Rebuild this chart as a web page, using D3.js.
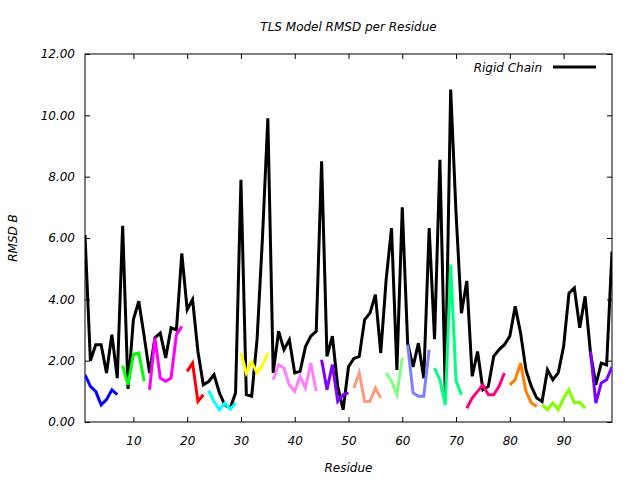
<!DOCTYPE html>
<html>
<head>
<meta charset="utf-8">
<script src="https://cdn.jsdelivr.net/npm/d3@7"></script>
<style>
  html, body { margin: 0; padding: 0; background: #fff; }
  svg text { font-family: "DejaVu Sans", sans-serif; font-style: italic; }
</style>
</head>
<body>
<svg id="chart" width="640" height="480"></svg>
<script>
// ---- data ----
const residues = d3.range(1, 100);
const rigidChain = [
  6.1, 2.0, 2.52, 2.52, 1.6, 2.85, 1.43, 6.4, 1.08, 3.34,
  3.94, 2.8, 1.6, 2.75, 2.9, 2.09, 3.07, 3.0, 5.5, 3.66,
  3.99, 2.3, 1.21, 1.32, 1.54, 0.95, 0.56, 0.45, 0.95, 7.9,
  0.89, 0.84, 2.7, 6.0, 9.9, 1.6, 2.96, 2.36, 2.68, 1.6,
  1.65, 2.46, 2.8, 2.96, 8.5, 2.14, 2.8, 1.16, 0.4, 1.8,
  2.07, 2.14, 3.34, 3.55, 4.15, 2.25, 4.64, 6.32, 1.7, 7.0,
  2.57, 1.8, 2.57, 1.43, 6.32, 2.7, 8.55, 0.95, 10.84, 6.8,
  3.55, 4.6, 1.49, 2.3, 1.05, 1.16, 2.14, 2.36, 2.52, 2.8,
  3.77, 2.9, 1.7, 1.16, 0.78, 0.67, 1.7, 1.38, 1.6, 2.46,
  4.2, 4.37, 3.07, 4.1, 2.25, 1.21, 1.92, 1.86, 5.56
];
// TLS groups: first residue of each group and the per-residue values
const groupStart = [1, 8, 13, 20, 24, 30, 36, 45, 51, 57, 61, 66, 72, 80, 86, 95];
const groupValues = [
  [1.54, 1.16, 1.0, 0.56, 0.73, 1.05, 0.89],
  [1.84, 1.21, 2.2, 2.25, 1.33],
  [1.05, 2.74, 1.43, 1.33, 1.43, 2.85, 3.12],
  [1.65, 1.92, 0.67, 0.89],
  [1.03, 0.67, 0.4, 0.62, 0.42, 0.62],
  [2.25, 1.6, 1.95, 1.6, 1.85, 2.25],
  [1.38, 1.87, 1.76, 1.21, 1.0, 1.49, 1.11, 1.92, 1.0],
  [2.03, 1.05, 1.87, 0.67, 0.89, 0.95],
  [1.11, 1.6, 0.67, 0.67, 1.11, 0.78],
  [1.6, 1.33, 0.89, 2.09],
  [2.52, 0.95, 0.84, 0.84, 2.36],
  [1.76, 1.38, 0.56, 5.13, 1.35, 0.89],
  [0.45, 0.78, 1.0, 1.21, 0.89, 0.89, 1.16, 1.6],
  [1.21, 1.38, 1.92, 1.0, 0.62, 0.51],
  [0.56, 0.4, 0.62, 0.4, 0.78, 1.05, 0.62, 0.64, 0.45],
  [2.3, 0.62, 1.27, 1.38, 1.8]
];
const groupColors = [
  "#0000ff", "#00ff00", "#ff00ff", "#ff0000", "#00ffff", "#ffff00",
  "#ff80ff", "#8000ff", "#ff9980", "#80ff80", "#8080ff", "#00ff80",
  "#ff0080", "#ff8000", "#80ff00", "#8000ff"
];
const yTicks = [0, 2, 4, 6, 8, 10, 12];
const xTicks = [10, 20, 30, 40, 50, 60, 70, 80, 90];
const titleText = "TLS Model RMSD per Residue";
const xLabel = "Residue";
const yLabel = "RMSD B";
const legendLabel = "Rigid Chain";

// ---- layout ----
const svg = d3.select("#chart");
const L = 85, R = 612, T = 54, B = 422;
const x = d3.scaleLinear().domain([1, 99]).range([L, R]);
const y = d3.scaleLinear().domain([0, 12]).range([B, T]);

// axes (ticks inward, mirrored)
const fmt = d3.format(".2f");
svg.append("g").attr("transform", `translate(${L},0)`)
  .call(d3.axisLeft(y).tickValues(yTicks).tickFormat(fmt).tickSizeInner(-5).tickSizeOuter(0).tickPadding(10))
  .call(g => g.select(".domain").remove());
svg.append("g").attr("transform", `translate(${R},0)`)
  .call(d3.axisRight(y).tickValues(yTicks).tickFormat("").tickSizeInner(-5).tickSizeOuter(0))
  .call(g => g.select(".domain").remove());
svg.append("g").attr("transform", `translate(0,${B})`)
  .call(d3.axisBottom(x).tickValues(xTicks).tickFormat(d3.format("d")).tickSizeInner(-5).tickSizeOuter(0).tickPadding(14))
  .call(g => g.select(".domain").remove());
svg.append("g").attr("transform", `translate(0,${T})`)
  .call(d3.axisTop(x).tickValues(xTicks).tickFormat("").tickSizeInner(-5).tickSizeOuter(0))
  .call(g => g.select(".domain").remove());
svg.selectAll(".tick line").attr("stroke", "#000");
svg.selectAll(".tick text").attr("fill", "#000").style("font-size", "12px")
  .style("font-family", "'DejaVu Sans', sans-serif").style("font-style", "italic");

svg.append("rect").attr("x", L).attr("y", T).attr("width", R - L).attr("height", B - T)
  .attr("fill", "none").attr("stroke", "#000").attr("stroke-width", 1);

// clip
svg.append("clipPath").attr("id", "clip").append("rect")
  .attr("x", L).attr("y", T).attr("width", R - L).attr("height", B - T);

const line = d3.line().x(d => x(d[0])).y(d => y(d[1]));
const plot = svg.append("g").attr("clip-path", "url(#clip)");

plot.append("path")
  .datum(residues.map((r, i) => [r, rigidChain[i]]))
  .attr("d", line).attr("fill", "none").attr("stroke", "#000")
  .attr("stroke-width", 3).attr("stroke-linejoin", "miter");

groupValues.forEach((vals, gi) => {
  plot.append("path")
    .datum(vals.map((v, i) => [groupStart[gi] + i, v]))
    .attr("d", line).attr("fill", "none").attr("stroke", groupColors[gi])
    .attr("stroke-width", 3);
});

// title and labels
svg.append("text").attr("x", (L + R) / 2).attr("y", 31).attr("text-anchor", "middle")
  .style("font-size", "12px").text(titleText);
svg.append("text").attr("x", (L + R) / 2).attr("y", 472).attr("text-anchor", "middle")
  .style("font-size", "12px").text(xLabel);
svg.append("text").attr("transform", `translate(17,${(T + B) / 2}) rotate(-90)`)
  .attr("text-anchor", "middle").style("font-size", "12px").text(yLabel);

// legend
svg.append("text").attr("x", 542).attr("y", 72).attr("text-anchor", "end")
  .style("font-size", "12px").text(legendLabel);
svg.append("line").attr("x1", 553).attr("x2", 596).attr("y1", 67).attr("y2", 67)
  .attr("stroke", "#000").attr("stroke-width", 3);
</script>
</body>
</html>
